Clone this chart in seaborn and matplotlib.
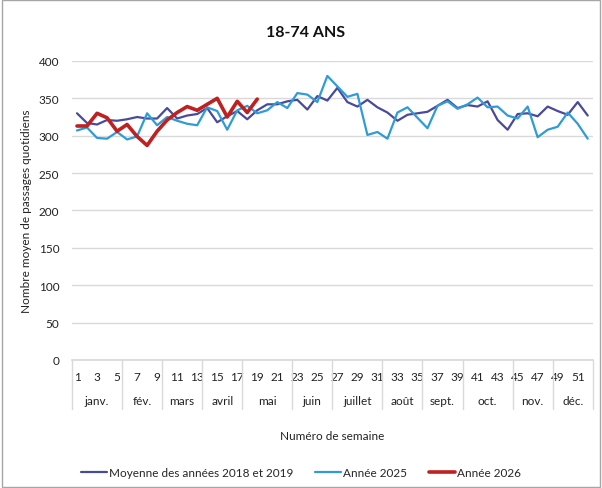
import numpy as np
import pandas as pd
import seaborn as sns
import matplotlib.pyplot as plt
from matplotlib.patches import Rectangle

# ----------- données -----------
semaines = list(range(1, 53))

moyenne_2018_2019 = [330, 317, 315, 321, 320, 322, 325, 323, 323, 337,
                     323, 327, 329, 337, 318, 326, 333, 322, 334, 342,
                     342, 346, 348, 335, 353, 347, 364, 345, 339, 348,
                     338, 331, 320, 328, 330, 332, 340, 348, 337, 341,
                     339, 346, 321, 308, 329, 330, 326, 339, 333, 328,
                     345, 327]

annee_2025 = [307, 311, 297, 296, 305, 295, 299, 330, 314, 325,
              320, 316, 314, 338, 333, 308, 334, 340, 330, 334,
              345, 337, 357, 355, 345, 380, 366, 352, 356, 301,
              305, 296, 331, 338, 324, 310, 340, 346, 336, 342,
              351, 338, 339, 327, 323, 339, 298, 308, 312, 331,
              316, 296]

annee_2026 = [313, 313, 330, 324, 306, 315, 299, 287, 306, 321,
              331, 339, 334, 342, 350, 325, 346, 331, 349]

mois = ["janv.", "fév.", "mars", "avril", "mai", "juin", "juillet",
        "août", "sept.", "oct.", "nov.", "déc."]
debut_mois = [1, 6, 10, 14, 18, 23, 27, 32, 36, 40, 45, 49, 53]

series = [
    ("Moyenne des années 2018 et 2019", moyenne_2018_2019, "#4a4a9c", 1.6),
    ("Année 2025", annee_2025, "#2f9bd7", 1.6),
    ("Année 2026", annee_2026, "#c0201f", 2.6),
]

# ----------- style -----------
sns.set_theme(style="white")
plt.rcParams["font.family"] = ["Lato", "DejaVu Sans"]

fig = plt.figure(figsize=(6.02, 4.89), dpi=100)
ax = fig.add_axes([0.1196, 0.2618, 0.865, 0.6115])

for nom, valeurs, couleur, lw in series:
    df = pd.DataFrame({"semaine": semaines[:len(valeurs)], "valeur": valeurs})
    sns.lineplot(data=df, x="semaine", y="valeur", ax=ax, color=couleur,
                 linewidth=lw, label=nom, legend=False)

ax.set_xlim(0.5, 52.5)
ax.set_ylim(0, 400)
ax.set_yticks(np.arange(0, 401, 50))
ax.set_xticks(semaines[::2])
ax.tick_params(axis="both", length=0, labelsize=8.5, colors="#222222")
ax.tick_params(axis="x", pad=8)
ax.tick_params(axis="y", pad=9)
ax.grid(axis="y", color="#d9d9d9", linewidth=1)
ax.set_axisbelow(True)
for s in ["top", "right", "left"]:
    ax.spines[s].set_visible(False)
ax.spines["bottom"].set_color("#d9d9d9")

ax.set_xlabel("")
ax.set_ylabel("Nombre moyen de passages quotidiens", fontsize=8.5, color="#222222", labelpad=5)

# axe des mois (deuxième niveau)
trans = ax.get_xaxis_transform()
for d in debut_mois:
    ax.plot([d - 0.5, d - 0.5], [0, -0.165], transform=trans, color="#d9d9d9",
            linewidth=1, clip_on=False)
for i, m in enumerate(mois):
    centre = (debut_mois[i] + debut_mois[i + 1] - 1) / 2
    ax.text(centre, -0.135, m, transform=trans, ha="center", va="center",
            fontsize=8.5, color="#222222")

fig.text(0.552, 1 - 437 / 489, "Numéro de semaine", ha="center", va="center",
         fontsize=8.5, color="#222222")
fig.text(0.507, 1 - 33 / 489, "18-74 ANS", ha="center", va="center",
         fontsize=11.5, fontweight="bold", color="#111111")

handles, labels = ax.get_legend_handles_labels()
fig.legend(handles, labels, loc="center", bbox_to_anchor=(0.5, 1 - 474 / 489),
           ncol=3, frameon=False, fontsize=8.5, handlelength=2.2,
           handletextpad=0.15, columnspacing=1.9)

# cadre du graphique
fig.patches.append(Rectangle((0.003, 0.003), 0.994, 0.994, transform=fig.transFigure,
                             fill=False, edgecolor="#a6a6a6", linewidth=1))

fig.savefig("out.png", dpi=100)
